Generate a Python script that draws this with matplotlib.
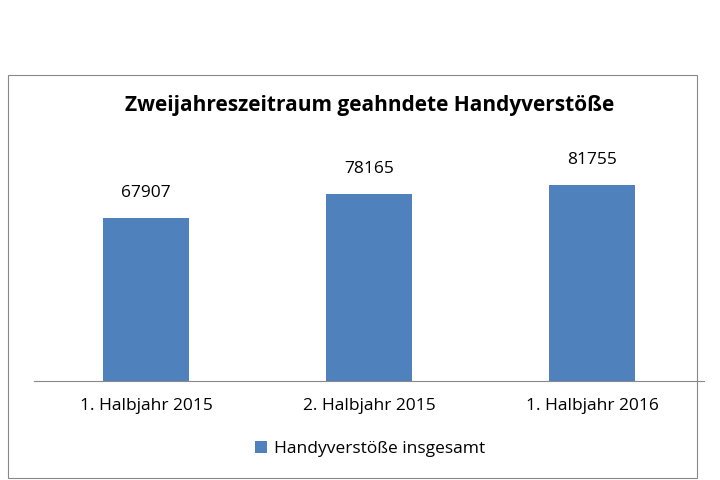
import matplotlib
matplotlib.use("Agg")
import matplotlib.pyplot as plt
from matplotlib.patches import Rectangle

categories = ["1. Halbjahr 2015", "2. Halbjahr 2015", "1. Halbjahr 2016"]
values = [67907, 78165, 81755]
series_name = "Handyverstöße insgesamt"
title = "Zweijahreszeitraum geahndete Handyverstöße"

plt.rcParams["font.family"] = "Open Sans"
fig = plt.figure(figsize=(7.2, 4.8), dpi=100)
W, H = 720, 480
fig.patches.append(Rectangle((8/W, 2/H), 689/W, 403/H, transform=fig.transFigure,
                             fill=False, edgecolor="#888888", lw=0.8))
ax = fig.add_axes([34.5/W, 99/H, 669/W, 281/H])
color = "#4F81BD"
ax.bar(range(len(values)), values, width=0.385, color=color, label=series_name)
ax.set_xlim(-0.5, 2.5)
ax.set_ylim(0, 81755 * 281 / 196)
for i, v in enumerate(values):
    ax.text(i, v + 7000, str(v), ha="center", va="bottom", fontsize=12.5)
for s in ["top", "right", "left"]:
    ax.spines[s].set_visible(False)
ax.spines["bottom"].set_color("#888888")
ax.set_yticks([])
ax.set_xticks(range(len(categories)))
ax.set_xticklabels(categories, fontsize=12.5)
ax.tick_params(axis="x", length=0, pad=12)
fig.text(370/W, 1 - 105/H, title, ha="center", va="center", fontsize=15, fontweight="bold")
fig.legend(loc="center", bbox_to_anchor=(370/W, 1 - 449/H), frameon=False,
           fontsize=12.5, handlelength=0.7, handleheight=0.7, handletextpad=0.4)
fig.savefig("out.png", dpi=100)
